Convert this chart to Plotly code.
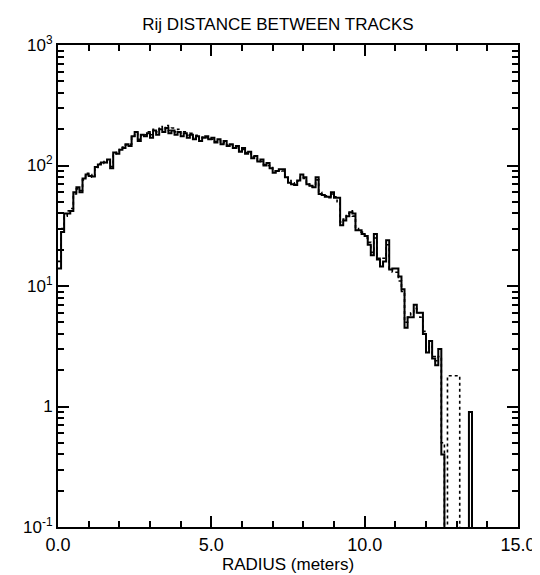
import plotly.graph_objects as go

# bin left edges (meters), width 0.1
bin_width = 0.1
solid_counts = [
    14, 28, 40, 40, 42, 60, 66, 60, 78, 84,
    82, 81, 97, 102, 106, 106, 112, 95, 128, 125,
    135, 140, 150, 145, 175, 190, 160, 180, 175, 185,
    170, 195, 180, 200, 190, 205, 185, 195, 180, 190,
    175, 185, 170, 180, 165, 175, 160, 170, 175, 165,
    170, 155, 165, 150, 160, 145, 150, 140, 145, 130,
    140, 125, 130, 115, 120, 108, 112, 100, 105, 95,
    87, 90, 93, 93, 80, 72, 70, 69, 75, 84,
    80, 70, 68, 66, 80, 58, 57, 55, 55, 60,
    54, 54, 32, 35, 38, 41, 40, 29, 29, 27,
    26, 22, 18, 27, 16.6, 14.5, 16, 24, 13.7, 14,
    14, 12, 9.4, 4.5, 5.5, 5.5, 7, 6, 6, 4,
    2.8, 3.5, 2.5, 2.2, 3.0, 0.4, 0.001, 0.001, 0.001, 0.001,
    0.001, 0.001, 0.001, 0.001, 0.9, 0.001,
]
dotted_counts = [
    16, 30, 38, 42, 44, 58, 64, 62, 76, 86,
    84, 80, 95, 104, 108, 104, 110, 98, 125, 128,
    138, 142, 148, 150, 172, 185, 165, 178, 180, 190,
    180, 200, 190, 210, 200, 215, 195, 205, 190, 200,
    185, 190, 178, 185, 170, 178, 165, 172, 170, 168,
    165, 158, 160, 152, 155, 148, 148, 142, 140, 132,
    136, 128, 126, 118, 116, 110, 108, 102, 100, 96,
    90, 88, 92, 90, 82, 75, 72, 70, 74, 80,
    78, 72, 66, 68, 76, 60, 56, 56, 54, 58,
    55, 50, 34, 36, 40, 42, 38, 30, 28, 28,
    25, 23, 19, 25, 17, 15, 17, 22, 14, 13,
    13, 11, 9, 5, 5.5, 6, 6.5, 6, 5.5, 4.2,
    3, 3.2, 2.6, 2.4, 2.6, 0.5, 0.001, 1.8, 1.8, 1.8,
    1.8, 0.001, 0.001, 0.001, 0.001, 0.001,
]

def step_xy(counts):
    xs = [round(i * bin_width, 3) for i in range(len(counts) + 1)]
    ys = list(counts) + [counts[-1]]
    return xs, ys

xs_d, ys_d = step_xy(dotted_counts)
xs_s, ys_s = step_xy(solid_counts)

fig = go.Figure()
fig.add_trace(go.Scatter(x=xs_d, y=ys_d, mode="lines", line_shape="hv",
                         line=dict(color="black", width=1.6, dash="dot"),
                         showlegend=False, hoverinfo="skip"))
fig.add_trace(go.Scatter(x=xs_s, y=ys_s, mode="lines", line_shape="hv",
                         line=dict(color="black", width=2),
                         showlegend=False, hoverinfo="skip"))

y_tickvals = [0.1, 1, 10, 100, 1000]
y_ticktext = ["10<sup>-1</sup>", "1", "10<sup>1</sup>", "10<sup>2</sup>", "10<sup>3</sup>"]
x_tickvals = [0, 5, 10, 15]
x_ticktext = ["0.0", "5.0", "10.0", "15.0"]

font_family = "Liberation Sans, Arial, sans-serif"

fig.update_layout(
    width=540, height=575,
    margin=dict(l=50, r=26, t=37, b=56),
    paper_bgcolor="white", plot_bgcolor="white",
    font=dict(family=font_family, color="black", size=15),
    title=dict(text="Rij DISTANCE BETWEEN TRACKS", x=0.5, xanchor="center",
               y=1 - 16 / 575, yanchor="middle",
               font=dict(size=17, family=font_family, color="black")),
    xaxis=dict(range=[0, 15], tickvals=x_tickvals, ticktext=x_ticktext,
               ticks="inside", ticklen=11, tickwidth=1.5, tickcolor="black",
               showline=True, linecolor="black", linewidth=2, mirror="ticks",
               showgrid=False, zeroline=False,
               minor=dict(dtick=1, ticks="inside", ticklen=6, tickwidth=1.5,
                          tickcolor="black", showgrid=False),
               title=dict(text="RADIUS (meters)", standoff=4, font=dict(size=17)),
               tickfont=dict(size=18)),
    yaxis=dict(type="log", range=[-1, 3], tickvals=y_tickvals, ticktext=y_ticktext,
               ticks="inside", ticklen=11, tickwidth=1.5, tickcolor="black",
               showline=True, linecolor="black", linewidth=2, mirror="ticks",
               showgrid=False, zeroline=False,
               minor=dict(dtick="D1", ticks="inside", ticklen=6, tickwidth=1.5,
                          tickcolor="black", showgrid=False),
               tickfont=dict(size=17)),
)

fig.write_html("out.html")
